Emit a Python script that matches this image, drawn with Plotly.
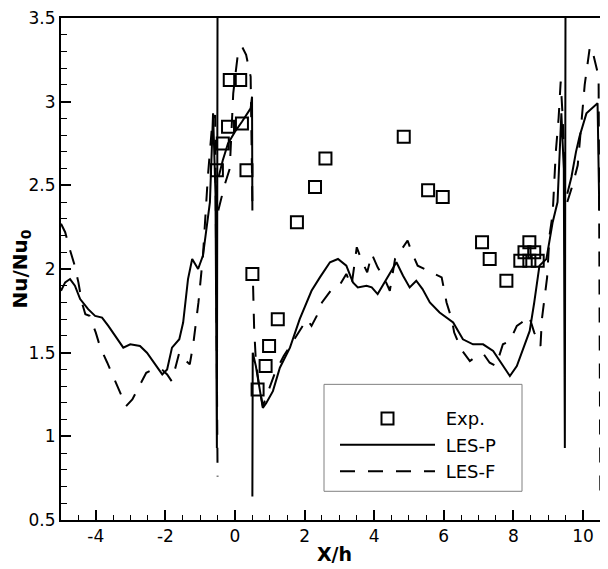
import plotly.graph_objects as go

# ---------------- data ----------------
exp_x = [-0.52, -0.35, -0.2, -0.15, 0.15, 0.2, 0.33, 0.5, 0.65, 0.88, 0.98, 1.23, 1.78, 2.3, 2.6,
         4.85, 5.55, 5.97, 7.1, 7.32, 7.8, 8.2, 8.32, 8.46, 8.46, 8.6, 8.7]
exp_y = [2.59, 2.75, 2.85, 3.13, 3.13, 2.87, 2.59, 1.97, 1.28, 1.42, 1.54, 1.70, 2.28, 2.49, 2.66,
         2.79, 2.47, 2.43, 2.16, 2.06, 1.93, 2.05, 2.10, 2.16, 2.05, 2.10, 2.05]

lesp_x = [-5.0, -4.88, -4.74, -4.6, -4.45, -4.22, -4.02, -3.82, -3.64, -3.38, -3.21, -3.01, -2.73, -2.53,
          -2.3, -2.09, -1.95, -1.81, -1.6, -1.49, -1.35, -1.23, -1.06, -0.92, -0.72, -0.63, -0.56, -0.52, -0.5,
          None,
          -0.47, -0.35, -0.2, 0.0, 0.2, 0.35, 0.45, 0.49, 0.5,
          None,
          0.5, 0.51, 0.6, 0.72, 0.8, 0.9, 1.09, 1.29, 1.58, 1.86, 2.07, 2.2, 2.44, 2.73, 2.96, 3.2, 3.39, 3.53,
          3.78, 3.93, 4.1, 4.3, 4.5, 4.64, 4.83, 5.02, 5.21, 5.39, 5.6, 5.88, 6.27, 6.55, 6.84, 7.13, 7.42,
          7.7, 7.9, 8.1, 8.27, 8.47, 8.6, 8.75, 8.95, 9.13, 9.27, 9.38, 9.45, 9.48, 9.5,
          None,
          9.55, 9.67, 9.8, 9.9, 10.1, 10.27, 10.42, 10.47]
lesp_y = [1.87, 1.92, 1.94, 1.90, 1.82, 1.76, 1.72, 1.71, 1.66, 1.58, 1.53, 1.55, 1.54, 1.50,
          1.43, 1.37, 1.40, 1.53, 1.58, 1.68, 1.94, 2.06, 2.00, 2.08, 2.40, 2.93, 2.45, 0.93, 3.8,
          None,
          2.55, 2.65, 2.75, 2.82, 2.88, 2.93, 2.96, 3.03, 2.35,
          None,
          0.64, 1.50, 1.42, 1.26, 1.17, 1.20, 1.27, 1.41, 1.53, 1.70, 1.80, 1.87, 1.95, 2.04, 2.06, 2.02, 1.92, 1.89,
          1.90, 1.89, 1.85, 1.92, 1.99, 2.04, 1.96, 1.89, 1.93, 1.88, 1.80, 1.74, 1.68, 1.58, 1.55, 1.55, 1.51,
          1.42, 1.36, 1.42, 1.52, 1.63, 1.80, 2.02, 2.06, 2.28, 2.40, 2.93, 2.60, 0.93, 3.8,
          None,
          2.45, 2.55, 2.70, 2.79, 2.93, 2.96, 2.99, 2.35]

lesf_x = [-5.0, -4.88, -4.75, -4.62, -4.5, -4.4, -4.3, -4.18, -4.0, -3.87, -3.67, -3.5, -3.3, -3.13, -2.95,
          -2.75, -2.55, -2.35, -2.1, -1.95, -1.82, -1.7, -1.6, -1.45, -1.3, -1.2, -1.05, -0.92, -0.78, -0.65,
          -0.57, -0.5,
          None,
          -0.48, -0.4, -0.3, -0.15, -0.05, 0.08, 0.2, 0.32, 0.45, 0.5,
          None,
          0.52, 0.55, 0.6, 0.68, 0.8, 0.95, 1.15, 1.4, 1.7, 1.95, 2.07, 2.2, 2.35, 2.5, 2.75, 3.0, 3.2, 3.35,
          3.5, 3.64, 3.8, 3.93, 4.1, 4.3, 4.45, 4.6, 4.8, 4.96, 5.1, 5.25, 5.45, 5.65, 5.94, 6.08, 6.23, 6.3,
          6.5, 6.75, 6.95, 7.15, 7.32, 7.5, 7.7, 7.9, 8.1, 8.24, 8.45, 8.6, 8.78, 8.82, 8.9, 8.97, 9.04, 9.13,
          9.22, 9.3, 9.36, 9.42, 9.48,
          None,
          9.55, 9.7, 9.85, 10.05, 10.2, 10.3, 10.45, 10.5,
          None,
          10.58, 10.62, 10.7]
lesf_y = [2.27, 2.22, 2.12, 2.03, 1.92, 1.80, 1.73, 1.72, 1.62, 1.53, 1.44, 1.36, 1.26, 1.18, 1.22,
          1.30, 1.38, 1.40, 1.40, 1.37, 1.33, 1.42, 1.50, 1.46, 1.43, 1.55, 1.80, 2.08, 2.55, 2.88,
          2.92, 0.76,
          None,
          2.35, 2.42, 2.50, 2.60, 3.05, 3.28, 3.33, 3.28, 3.15, 2.40,
          None,
          1.90, 1.65, 1.45, 1.32, 1.18, 1.27, 1.38, 1.48, 1.58, 1.66, 1.70, 1.66, 1.72, 1.80, 1.87, 1.90, 1.97, 1.90,
          2.13, 2.05, 1.98, 2.09, 2.01, 1.94, 1.87, 2.06, 2.12, 2.17, 2.09, 2.02, 2.00, 1.98, 1.95, 1.80, 1.70, 1.62,
          1.52, 1.45, 1.48, 1.49, 1.44, 1.42, 1.55, 1.57, 1.66, 1.68, 1.72, 1.62, 1.54, 1.70, 1.84, 1.95, 2.20, 2.33,
          2.70, 2.90, 3.12, 2.90, 2.50,
          None,
          2.40, 2.50, 2.62, 3.10, 3.33, 3.28, 3.15, 0.66,
          None,
          1.72, 1.62, 1.55]

series_names = ["\u00a0Exp.", "\u00a0LES-P", "\u00a0LES-F"]

x_tick_vals = [-4, -2, 0, 2, 4, 6, 8, 10]
x_tick_text = ["-4", "-2", "0", "2", "4", "6", "8", "10"]
y_tick_vals = [0.5, 1, 1.5, 2, 2.5, 3, 3.5]
y_tick_text = ["0.5", "1", "1.5", "2", "2.5", "3", "3.5"]

FONT = "DejaVu Sans, Verdana, sans-serif"

fig = go.Figure()
fig.add_trace(go.Scatter(x=exp_x, y=exp_y, mode="markers", name=series_names[0],
                         marker=dict(symbol="square-open", size=12, color="black",
                                     line=dict(width=2, color="black"))))
fig.add_trace(go.Scatter(x=lesp_x, y=lesp_y, mode="lines", name=series_names[1],
                         line=dict(color="black", width=2), connectgaps=False))
fig.add_trace(go.Scatter(x=lesf_x, y=lesf_y, mode="lines", name=series_names[2],
                         line=dict(color="black", width=2, dash="15px,13px"), connectgaps=False))

# page body has an 8px margin: figure is 600x561 so the plot area lands at 61..608 x 13..520
fig.update_layout(
    width=600, height=561,
    margin=dict(l=53, r=0, t=5, b=49),
    paper_bgcolor="white", plot_bgcolor="white",
    font=dict(family=FONT, size=17, color="black"),
    showlegend=True,
    legend=dict(x=(335 - 61) / 547, y=(520 - 399) / 507, xanchor="left", yanchor="top",
                bgcolor="rgba(0,0,0,0)", borderwidth=0, itemwidth=95,
                font=dict(family=FONT, size=18, color="black"), tracegroupgap=0),
    shapes=[dict(type="rect", xref="paper", yref="paper",
                 x0=(324 - 61) / 547, x1=(522 - 61) / 547,
                 y0=(520 - 491) / 507, y1=(520 - 383) / 507,
                 line=dict(color="#808080", width=1), fillcolor="white", layer="above")],
    xaxis=dict(range=[-5, 10.72], showgrid=False, zeroline=False,
               showline=True, linecolor="black", linewidth=2, mirror=True,
               ticks="inside", ticklen=10, tickwidth=2, tickcolor="black",
               tickvals=x_tick_vals, ticktext=x_tick_text, ticklabeloverflow="allow",
               tickfont=dict(family=FONT, size=17, color="black"),
               minor=dict(dtick=0.5, tick0=0, ticks="inside", ticklen=5, tickwidth=1, tickcolor="black"),
               title=dict(text="<b>X/h</b>", font=dict(family=FONT, size=19, color="black"), standoff=2)),
    yaxis=dict(range=[0.5, 3.5], showgrid=False, zeroline=False,
               showline=True, linecolor="black", linewidth=2, mirror=False,
               ticks="inside", ticklen=10, tickwidth=2, tickcolor="black",
               tickvals=y_tick_vals, ticktext=y_tick_text, ticklabeloverflow="allow",
               tickfont=dict(family=FONT, size=17, color="black"),
               minor=dict(dtick=0.1, tick0=0, ticks="inside", ticklen=6, tickwidth=1, tickcolor="black"),
               title=dict(text="<b>Nu/Nu<sub>0</sub></b>", font=dict(family=FONT, size=20, color="black"),
                          standoff=0)),
)

fig.write_html("out.html")
